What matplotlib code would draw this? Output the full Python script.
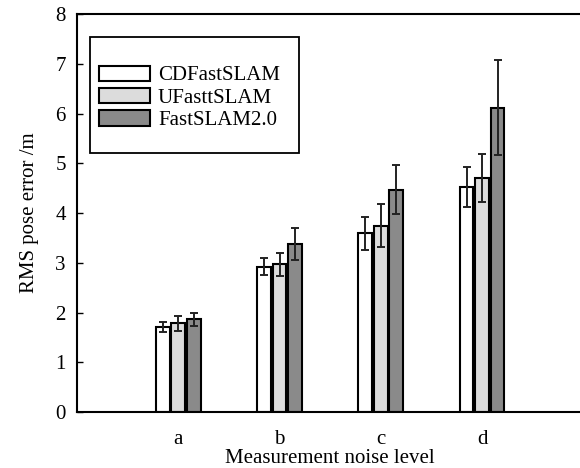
import matplotlib
matplotlib.use("Agg")
import matplotlib.pyplot as plt
import numpy as np
from matplotlib.patches import Rectangle

plt.rcParams['font.family'] = ['Liberation Serif', 'DejaVu Serif']

categories = ['a', 'b', 'c', 'd']
series_names = ['CDFastSLAM', 'UFasttSLAM', 'FastSLAM2.0']
cd_vals = [1.70, 2.92, 3.59, 4.53]
uf_vals = [1.78, 2.97, 3.75, 4.70]
fs_vals = [1.86, 3.37, 4.47, 6.12]
cd_err = [0.10, 0.17, 0.33, 0.40]
uf_err = [0.15, 0.23, 0.43, 0.48]
fs_err = [0.14, 0.32, 0.49, 0.95]
yticks = [0, 1, 2, 3, 4, 5, 6, 7, 8]

colors = ['#ffffff', '#dcdcdc', '#8a8a8a']
fig = plt.figure(figsize=(5.8, 4.68), dpi=100)
ax = fig.add_axes([0.1328, 0.1197, 0.873, 0.850])

x = np.arange(1, len(categories) + 1)
w = 0.135
off = 0.153
vals = [cd_vals, uf_vals, fs_vals]
errs = [cd_err, uf_err, fs_err]
handles = []
for i, (v, e, c, n) in enumerate(zip(vals, errs, colors, series_names)):
    b = ax.bar(x + (i - 1) * off, v, width=w, color=c, edgecolor='black',
               linewidth=1.5, label=n, zorder=2)
    ax.errorbar(x + (i - 1) * off, v, yerr=e, fmt='none', ecolor='#222222',
                elinewidth=1.4, capsize=3, capthick=1.4, zorder=3)
    handles.append(b)

ax.set_xlim(0, 5)
ax.set_ylim(0, 8)
ax.set_yticks(yticks)
ax.set_xticks(x)
ax.set_xticklabels(categories)
ax.tick_params(axis='y', direction='in', length=4, width=1, labelsize=15, pad=8)
ax.tick_params(axis='x', length=0, labelsize=15, pad=13)
for s in ['left', 'bottom', 'top']:
    ax.spines[s].set_linewidth(1.5)
ax.spines['right'].set_visible(False)

ax.set_xlabel('Measurement noise level', fontsize=15, labelpad=0)
ax.set_ylabel('RMS pose error /m', fontsize=15, labelpad=12)

# legend frame
x0, x1 = 90, 299
y0, y1 = 37, 153
W, H = 580, 468
ax.add_patch(Rectangle((x0 / W, 1 - y1 / H), (x1 - x0) / W, (y1 - y0) / H,
                       transform=fig.transFigure, fill=True, facecolor='white',
                       edgecolor='black', linewidth=1.3, zorder=5, clip_on=False))
leg = ax.legend(handles=handles, loc='upper left',
                bbox_to_anchor=(84 / W, 1 - 51 / H), bbox_transform=fig.transFigure,
                frameon=False, fontsize=15, handlelength=2.45, handleheight=0.75,
                labelspacing=0.12, handletextpad=0.4, borderpad=0.2)
leg.set_zorder(6)

fig.savefig('out.png', dpi=100)
